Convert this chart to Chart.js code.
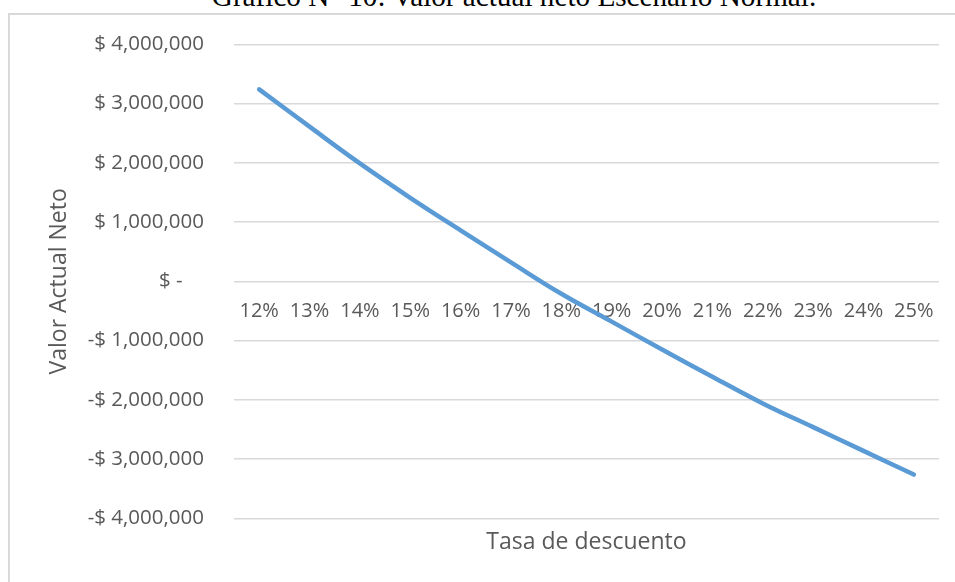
<!DOCTYPE html>
<html>
<head>
<meta charset="utf-8">
<script src="https://cdn.jsdelivr.net/npm/chart.js@4.4.1/dist/chart.umd.min.js"></script>
<style>
  html, body { margin: 0; padding: 0; background: #fff; }
  body { width: 955px; height: 582px; position: relative; overflow: hidden; }
  #caption {
    position: absolute; left: 0; width: 1028px; top: -20px;
    text-align: center; white-space: nowrap;
    font-family: "Liberation Serif", "Times New Roman", serif; font-size: 29.2px; color: #000;
  }
  #frame {
    position: absolute; left: 8px; top: 13px; width: 947px; height: 569px;
    border-left: 2px solid #d9d9d9; border-top: 2px solid #d9d9d9;
  }
  /* the canvas sits a little higher than the frame so the plot can start near the top edge */
  #wrap { position: absolute; left: 0; top: -13px; width: 945px; height: 580px; }
</style>
</head>
<body>
<div id="caption">Gráfico N° 10: Valor actual neto Escenario Normal.</div>
<div id="frame"><div id="wrap"><canvas id="vanChart"></canvas></div></div>
<script>
// Tasas de descuento y VAN (en pesos)
const tasas = ['12%', '13%', '14%', '15%', '16%', '17%', '18%',
               '19%', '20%', '21%', '22%', '23%', '24%', '25%'];
const van = [3240000, 2610000, 1990000, 1410000, 860000, 320000, -210000,
             -680000, -1150000, -1610000, -2060000, -2460000, -2860000, -3260000];
const yTicks = [-4000000, -3000000, -2000000, -1000000, 0, 1000000, 2000000, 3000000, 4000000];

const gris = '#595959';
Chart.defaults.font.family = "Open Sans";
Chart.defaults.font.size = 20.5;
Chart.defaults.color = gris;

function pesos(v) {
  if (v === 0) return '$ -    ';
  const s = '$ ' + Math.abs(v).toLocaleString('en-US');
  return v < 0 ? '-' + s : s;
}

const ctx = document.getElementById('vanChart').getContext('2d');
const vanChart = new Chart(ctx, {
  type: 'line',
  data: {
    labels: tasas,
    datasets: [{
      data: van,
      borderColor: '#5b9bd5',
      borderWidth: 4.5,
      borderCapStyle: 'round',
      pointRadius: 0,
      tension: 0.4,
      fill: false
    }]
  },
  options: {
    responsive: true,
    maintainAspectRatio: false,
    animation: false,
    layout: { padding: { top: 4, right: 16, left: 32, bottom: 22 } },
    plugins: { legend: { display: false }, tooltip: { enabled: false } },
    scales: {
      x: {
        offset: true,
        position: { y: 0 },
        grid: { display: false, drawTicks: false },
        border: { display: false },
        ticks: { padding: 18, maxRotation: 0, autoSkip: false, font: { size: 20 } }
      },
      x2: {
        type: 'category',
        labels: tasas,
        offset: true,
        position: 'bottom',
        grid: { display: false, drawTicks: false },
        border: { display: false },
        ticks: { display: false },
        title: { display: true, text: 'Tasa de descuento', font: { size: 23 }, padding: { top: 10, bottom: 4 } }
      },
      y: {
        min: -4000000,
        max: 4000000,
        afterBuildTicks: axis => { axis.ticks = yTicks.map(v => ({ value: v })); },
        afterFit: axis => { axis.width = 192; },
        grid: { color: '#d9d9d9', lineWidth: 1.5, drawTicks: false },
        border: { display: false },
        ticks: { padding: 30, callback: v => pesos(v) },
        title: { display: true, text: 'Valor Actual Neto', font: { size: 23 }, padding: { top: 4, bottom: 4 } }
      }
    }
  }
});
</script>
</body>
</html>
